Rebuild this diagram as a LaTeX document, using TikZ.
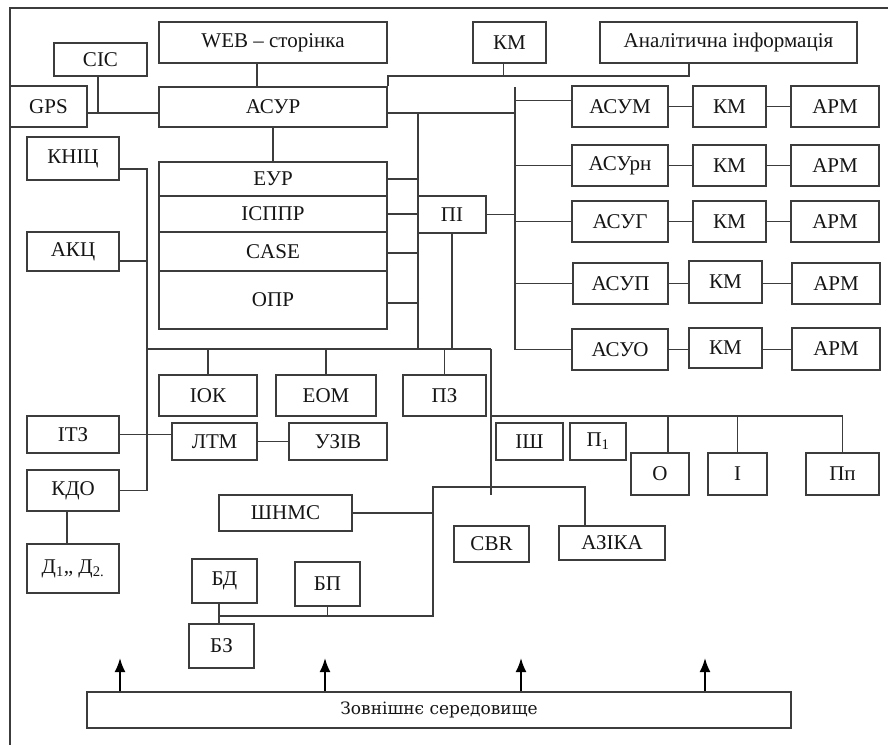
\documentclass[tikz,border=0pt]{standalone}
\usepackage{fontspec}
\setmainfont{Liberation Serif}
\newfontfamily\envfont{DejaVu Serif}
\usetikzlibrary{arrows.meta}
\definecolor{ln}{HTML}{3C3C3C}
\definecolor{tx}{HTML}{151515}
\tikzset{
  boxst/.style={draw=ln, line width=1.7pt, inner sep=0pt, text=tx, font=\fontsize{21}{24}\selectfont},
  conn/.style={draw=ln, line width=1.7pt},
  arr/.style={draw=black, line width=2pt, -{Latex[length=14pt,width=11pt]}}
}
\newcommand\bx[6]{\node[boxst, minimum width={#4-#2}, minimum height={#5-#3}] (#1) at ({(#2+#4)/2},{(#3+#5)/2}) {#6};}
\begin{document}
\begin{tikzpicture}[x=1pt,y=-1pt]
\useasboundingbox (0,0) rectangle (888,745);
% frame
\draw[conn] (888,8) -- (10,8) -- (10,745);
% top
\bx{web}{159}{22}{387}{63}{WEB – сторінка}
\bx{cic}{54}{43}{147}{76}{СІС}
\bx{gps}{10}{86}{87}{127}{GPS}
\bx{asur}{159}{87}{387}{127}{АСУР}
\bx{kmt}{473}{22}{546}{63}{КМ}
\bx{ana}{600}{22}{857}{63}{Аналітична інформація}
% block
\bx{eur}{159}{162}{387}{196}{ЕУР}
\bx{isppr}{159}{196}{387}{232}{ІСППР}
\bx{cs}{159}{232}{387}{271}{\raisebox{-4pt}{CASE}}
\bx{opr}{159}{271}{387}{329}{\raisebox{-6pt}{ОПР}}
\bx{pi}{418}{196}{486}{233}{ПІ}
% left
\bx{knic}{27}{137}{119}{180}{КНІЦ}
\bx{akc}{27}{232}{119}{271}{АКЦ}
\bx{itz}{27}{416}{119}{453}{ІТЗ}
\bx{kdo}{27}{470}{119}{511}{КДО}
\bx{d12}{27}{544}{119}{593}{Д\textsubscript{1},, Д\textsubscript{2.}}
% middle
\bx{iok}{159}{375}{257}{416}{ІОК}
\bx{eom}{276}{375}{376}{416}{ЕОМ}
\bx{pz}{403}{375}{486}{416}{ПЗ}
\bx{ltm}{172}{423}{257}{460}{ЛТМ}
\bx{uziv}{289}{423}{387}{460}{УЗІВ}
\bx{ish}{496}{423}{563}{460}{ІШ}
\bx{p1}{570}{423}{626}{460}{П\textsubscript{1}}
\bx{oo}{631}{453}{689}{495}{О}
\bx{ii}{708}{453}{767}{495}{І}
\bx{pp}{806}{453}{879}{495}{Пп}
\bx{shnms}{219}{495}{352}{531}{ШНМС}
\bx{cbr}{454}{526}{529}{562}{CBR}
\bx{azika}{559}{526}{665}{560}{АЗІКА}
\bx{bd}{192}{559}{257}{603}{БД}
\bx{bp}{295}{562}{360}{606}{БП}
\bx{bz}{189}{624}{254}{668}{БЗ}
% right column
\bx{asum}{572}{86}{668}{127}{АСУМ}
\bx{kma}{693}{86}{766}{127}{КМ}
\bx{arma}{791}{86}{879}{127}{АРМ}
\bx{asurn}{572}{145}{668}{186}{АСУрн}
\bx{kmb}{693}{145}{766}{186}{КМ}
\bx{armb}{791}{145}{879}{186}{АРМ}
\bx{asug}{572}{201}{668}{242}{АСУГ}
\bx{kmc}{693}{201}{766}{242}{КМ}
\bx{armc}{791}{201}{879}{242}{АРМ}
\bx{asup}{573}{263}{668}{304}{АСУП}
\bx{kmd}{689}{261}{762}{303}{КМ}
\bx{armd}{792}{263}{880}{304}{АРМ}
\bx{asuo}{572}{329}{668}{370}{АСУО}
\bx{kme}{689}{328}{762}{368}{КМ}
\bx{arme}{792}{328}{880}{370}{АРМ}
% environment
\node[draw=ln, line width=1.7pt, minimum width=704pt, minimum height=36pt, inner sep=0pt, text=tx, font=\envfont\fontsize{17}{20}\selectfont] (env) at (439,710) {Зовнішнє середовище};
% coordinates
\coordinate (j1) at (98,113);
\coordinate (t1) at (0,76);
\coordinate (anac) at (689,63);
\coordinate (r1) at (515,113);
\coordinate (tt) at (515,87);
\coordinate (v418) at (418,113);
\coordinate (lt) at (147,169);
\coordinate (bus) at (0,349);
\coordinate (v491) at (491,349);
\coordinate (h416) at (491,416);
\coordinate (k1) at (433,487);
\coordinate (k2) at (433,616);
\coordinate (azc) at (585,487);
% top connectors
\draw[conn] (gps.east |- j1) -- (asur.west |- j1);
\draw[conn] (cic.south -| j1) -- (j1);
\draw[conn] ([xshift=-16pt]web.south) -- ([xshift=-16pt]asur.north);
\draw[conn] (asur.north east) -- (asur.north east |- t1) -- (anac |- t1) -- (anac);
\draw[conn] ([xshift=-6pt]kmt.south) -- ([xshift=-6pt]kmt.south |- t1);
\draw[conn] (asur.east |- r1) -- (r1);
\draw[conn] (asur.south) -- (eur.north);
% right trunk
\draw[conn] (tt) |- (asuo.west);
\draw[conn] ([yshift=6pt]asum.west) -- ([yshift=6pt]asum.west -| tt);
\draw[conn] (asurn.west) -- (asurn.west -| tt);
\draw[conn] (asug.west) -- (asug.west -| tt);
\draw[conn] (asup.west) -- (asup.west -| tt);
\draw[conn] (pi.east) -- (pi.east -| tt);
\foreach \a/\b/\c in {asum/kma/arma, asurn/kmb/armb, asug/kmc/armc, asup/kmd/armd, asuo/kme/arme}{
  \draw[conn] (\a.east) -- (\a.east -| \b.west);
  \draw[conn] (\a.east -| \b.east) -- (\a.east -| \c.west);
}
% 418 trunk
\draw[conn] (v418) -- (v418 |- bus);
\draw[conn] (eur.east) -- (eur.east -| v418);
\draw[conn] (isppr.east) -- (isppr.east -| v418);
\draw[conn] ([yshift=-1.5pt]cs.east) -- ([yshift=-1.5pt]cs.east -| v418);
\draw[conn] ([yshift=-3pt]opr.east) -- ([yshift=-3pt]opr.east -| v418);
\draw[conn] (pi.south) -- (pi.south |- bus);
% left trunk
\draw[conn] ([yshift=-10.5pt]knic.east) -- (lt) -- (lt |- kdo.east) -- (kdo.east);
\draw[conn] ([yshift=-9.5pt]akc.east) -- ([yshift=-9.5pt]akc.east -| lt);
\draw[conn] (lt |- bus) -- (v491);
\draw[conn] (iok.north) -- (iok.north |- bus);
\draw[conn] (eom.north) -- (eom.north |- bus);
\draw[conn] (pz.north) -- (pz.north |- bus);
\draw[conn] (itz.east) -- (itz.east -| ltm.west);
\draw[conn] (ltm.east) -- (uziv.west);
\draw[conn] (kdo.south -| 67,0) -- (d12.north -| 67,0);
% 491 trunk
\draw[conn] (v491) -- (491,495);
\draw[conn] (h416) -- (pp.north |- h416) -- (pp.north);
\draw[conn] ([xshift=8pt]oo.north) -- ([xshift=8pt]oo.north |- h416);
\draw[conn] (ii.north) -- (ii.north |- h416);
% lower tree
\draw[conn] (azc |- azika.north) -- (azc) -- (k1) -- (k2) -- (k2 -| 219,0);
\draw[conn] (shnms.east) -- (shnms.east -| k1);
\draw[conn] (bp.south) -- (bp.south |- k2);
\draw[conn] (bd.south -| 219,0) -- (bz.north -| 219,0);
% arrows
\foreach \x in {120,325,521,705}{
  \draw[arr] (env.north -| \x,0) -- (\x,658);
}
\end{tikzpicture}
\end{document}
